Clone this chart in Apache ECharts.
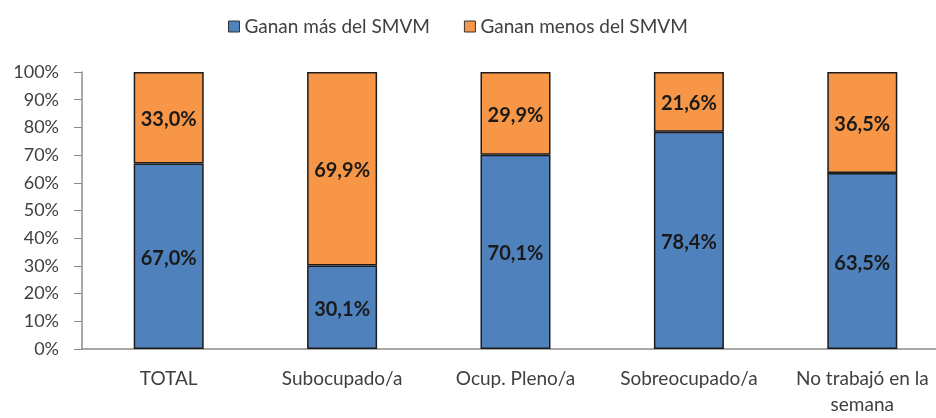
<!DOCTYPE html>
<html>
<head>
<meta charset="utf-8">
<script src="https://cdn.jsdelivr.net/npm/echarts@6/dist/echarts.min.js"></script>
<style>
  html, body { margin: 0; padding: 0; background: #fff; overflow: hidden; }
  #chart { width: 949px; height: 418px; }
</style>
</head>
<body>
<div id="chart"></div>
<script>
  const categories = ["TOTAL", "Subocupado/a", "Ocup. Pleno/a", "Sobreocupado/a", "No trabajó en la\nsemana"]
  const ganaMas = [67.0, 30.1, 70.1, 78.4, 63.5]
  const ganaMenos = [33.0, 69.9, 29.9, 21.6, 36.5]
  const seriesNames = ["Ganan más del SMVM", "Ganan menos del SMVM"]

  const fontFamily = "Lato, 'Noto Sans', sans-serif"

  const fmt = p => p.value.toFixed(1).replace(".", ",") + "%"

  const chart = echarts.init(document.getElementById("chart"))

  const barSeries = (name, data, color) => ({
    name: name,
    type: "bar",
    stack: "total",
    data: data,
    barWidth: 70,
    itemStyle: {
      color: color,
      borderColor: "#1c1c1c",
      borderWidth: 1.5
    },
    label: {
      show: true,
      position: "inside",
      offset: [0, 2],
      formatter: fmt,
      fontFamily: fontFamily,
      fontWeight: "bold",
      fontSize: 20,
      color: "#1a1a1a"
    }
  })

  chart.setOption({
    animation: false,
    textStyle: { fontFamily: fontFamily },
    legend: {
      top: 12,
      left: 223,
      icon: "rect",
      itemWidth: 11,
      itemHeight: 11,
      itemGap: 34,
      itemStyle: { borderColor: "#333", borderWidth: 1 },
      textStyle: { fontSize: 19, color: "#404040", fontFamily: fontFamily }
    },
    // chart box is a bit wider than the window so the last category runs off the right edge
    grid: {
      left: 82,
      right: 0,
      top: 72,
      bottom: 66,
      containLabel: false
    },
    xAxis: {
      type: "category",
      data: categories,
      axisLine: { lineStyle: { color: "#8c8c8c", width: 1.5 } },
      axisTick: { show: false },
      axisLabel: {
        interval: 0,
        margin: 17,
        fontSize: 19,
        lineHeight: 26,
        color: "#404040",
        fontFamily: fontFamily
      }
    },
    yAxis: {
      type: "value",
      min: 0,
      max: 100,
      interval: 10,
      axisLine: { show: true, lineStyle: { color: "#8c8c8c", width: 1.5 } },
      axisTick: { show: true, length: 8, lineStyle: { color: "#8c8c8c" } },
      splitLine: { show: false },
      axisLabel: {
        formatter: "{value}%",
        margin: 23,
        fontSize: 18,
        color: "#404040",
        fontFamily: fontFamily
      }
    },
    series: [
      barSeries(seriesNames[0], ganaMas, "#4f81bd"),
      barSeries(seriesNames[1], ganaMenos, "#f79646")
    ]
  })

  window.addEventListener("resize", () => chart.resize())
</script>
</body>
</html>
